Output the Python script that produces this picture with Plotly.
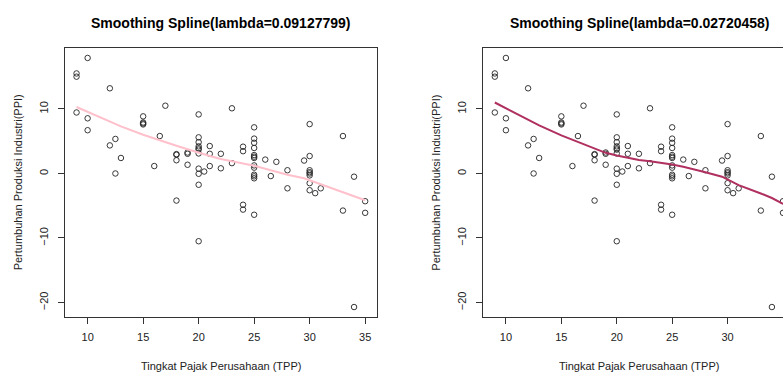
import plotly.graph_objects as go

# Observed data (TPP vs PPI)
x_vals = [9, 9, 9,
          10, 10, 10,
          12, 12,
          12.5, 12.5,
          13,
          15, 15, 15, 15,
          16,
          16.5,
          17,
          18, 18, 18, 18,
          19, 19, 19,
          20, 20, 20, 20, 20, 20, 20, 20, 20, 20, 20,
          20.5,
          21, 21, 21,
          22, 22,
          23, 23,
          24, 24, 24, 24,
          25, 25, 25, 25, 25, 25, 25, 25, 25, 25, 25, 25, 25,
          26,
          26.5,
          27,
          28, 28,
          29.5,
          30, 30, 30, 30, 30, 30, 30, 30,
          30.5,
          31,
          33, 33,
          34, 34,
          35, 35]
y_vals = [15.5, 15.0, 9.45,
          17.9, 8.55, 6.7,
          13.2, 4.35,
          5.35, 0.0,
          2.4,
          8.85, 7.9, 7.75, 7.6,
          1.15,
          5.8,
          10.5,
          3.0, 2.9, 2.05, -4.2,
          3.25, 3.05, 1.35,
          9.15, 5.6, 4.85, 4.2, 3.9, 3.7, 3.1, 0.75, -0.05, -1.75, -10.5,
          0.3,
          4.25, 3.05, 1.15,
          3.05, 0.8,
          10.1, 1.6,
          4.15, 3.45, -4.85, -5.6,
          7.15, 5.4, 4.75, 3.95, 2.85, 2.6, 2.4, 1.25, 0.9, -0.2, -0.45, -0.75, -6.4,
          2.15,
          -0.4,
          1.8,
          0.5, -2.3,
          2.0,
          7.65, 2.7, 0.5, 0.2, 0.0, -0.3, -1.5, -2.6,
          -3.05,
          -2.3,
          5.8, -5.75,
          -0.5, -20.7,
          -4.3, -6.1]

# Smoothing spline fitted values at the unique x values
fit_x = [9, 10, 12, 12.5, 13, 15, 16, 16.5, 17, 18, 19, 20, 20.5, 21, 22, 23,
         24, 25, 26, 26.5, 27, 28, 29.5, 30, 30.5, 31, 33, 34, 35]
fit_left = [10.3, 9.55, 8.05, 7.7, 7.3, 6.0, 5.4, 5.1, 4.85, 4.3, 3.75, 3.2, 2.95,
            2.7, 2.25, 1.85, 1.55, 1.2, 0.75, 0.5, 0.3, -0.2, -0.75, -1.05, -1.4,
            -1.75, -2.95, -3.5, -4.15]
fit_right = [11.0, 10.1, 8.3, 7.85, 7.45, 5.9, 5.2, 4.85, 4.5, 3.8, 3.2, 2.8, 2.6,
             2.4, 2.1, 1.9, 1.7, 1.4, 1.05, 0.85, 0.6, 0.2, -0.5, -0.9, -1.3,
             -1.8, -3.1, -3.8, -4.7]

titles = ["Smoothing Spline(lambda=0.09127799)", "Smoothing Spline(lambda=0.02720458)"]
x_title = "Tingkat Pajak Perusahaan (TPP)"
y_title = "Pertumbuhan Produksi Industri(PPI)"
x_ticks = [10, 15, 20, 25, 30, 35]
y_ticks = [-20, -10, 0, 10]

FONT = "Liberation Sans, Arial, sans-serif"
INK = "#222222"

# R-style 4% padded ranges
xmin, xmax = min(x_vals), max(x_vals)
ymin, ymax = min(y_vals), max(y_vals)
xpad = (xmax - xmin) * 0.04
ypad = (ymax - ymin) * 0.04
xr = [xmin - xpad, xmax + xpad]
yr = [ymin - ypad, ymax + ypad]

fig = go.Figure()
for i, (fit, col) in enumerate([(fit_left, "#FFC0CB"), (fit_right, "#B03060")]):
    xa = "x" if i == 0 else "x2"
    ya = "y" if i == 0 else "y2"
    fig.add_trace(go.Scatter(x=x_vals, y=y_vals, mode="markers", xaxis=xa, yaxis=ya,
                             marker=dict(symbol="circle-open", size=5.5, color=INK,
                                         line=dict(width=0.9, color=INK)),
                             cliponaxis=False, showlegend=False, hoverinfo="skip"))
    fig.add_trace(go.Scatter(x=fit_x, y=fit, mode="lines", xaxis=xa, yaxis=ya,
                             line=dict(color=col, width=2), cliponaxis=False,
                             showlegend=False, hoverinfo="skip"))

W, H = 783, 372
ml, mr, mt, mb = 65, 0, 48, 55
pw = W - ml - mr
ph = H - mt - mb
left_end = (376.7 - ml) / pw
right_start = (483.3 - ml) / pw

axis_common = dict(showgrid=False, zeroline=False, showline=True, linecolor="#333333",
                   linewidth=1, ticks="outside", ticklen=6, tickwidth=1,
                   tickcolor="#333333", tickfont=dict(family=FONT, size=11, color=INK))

# right panel truncated at the window edge, same scale as left
right_xr = [xr[0], 35.0]

fig.update_layout(
    width=W, height=H, margin=dict(l=ml, r=mr, t=mt, b=mb),
    paper_bgcolor="white", plot_bgcolor="white",
    xaxis=dict(domain=[0, left_end], range=xr, anchor="y", tickvals=x_ticks,
               mirror=True, ticklabelstandoff=4, **axis_common),
    yaxis=dict(domain=[0, 1], range=yr, anchor="x", tickvals=y_ticks, tickangle=-90,
               mirror=True, ticklabelstandoff=6, **axis_common),
    xaxis2=dict(domain=[right_start, 1], range=right_xr, anchor="y2", tickvals=x_ticks,
                mirror=True, ticklabelstandoff=4, **axis_common),
    yaxis2=dict(domain=[0, 1], range=yr, anchor="x2", tickvals=y_ticks, tickangle=-90,
                mirror=False, ticklabelstandoff=6, **axis_common),
)

def px_x(px):
    return (px - ml) / pw

def px_y(py):
    return (H - mb - py) / ph

centers = [(ml + 376.7) / 2, (483.3 + 483.3 + 311.7) / 2]
box_left = [65, 483.3]
annots = []
for i in range(2):
    annots.append(dict(text="<b>" + titles[i] + "</b>", x=px_x(centers[i]), y=px_y(23),
                       xref="paper", yref="paper", showarrow=False, xanchor="center",
                       yanchor="middle", font=dict(family=FONT, size=14, color="#000000")))
    annots.append(dict(text=x_title, x=px_x(centers[i]), y=px_y(366), xref="paper",
                       yref="paper", showarrow=False, xanchor="center", yanchor="middle",
                       font=dict(family=FONT, size=11, color=INK)))
    annots.append(dict(text=y_title, x=px_x(box_left[i] - 47), y=px_y(182.35),
                       xref="paper", yref="paper", showarrow=False, xanchor="center",
                       yanchor="middle", textangle=-90,
                       font=dict(family=FONT, size=11, color=INK)))
fig.update_layout(annotations=annots)

fig.write_html("out.html", config={"displayModeBar": False},
               post_script="document.body.style.margin='0';document.body.style.overflow='hidden';")
